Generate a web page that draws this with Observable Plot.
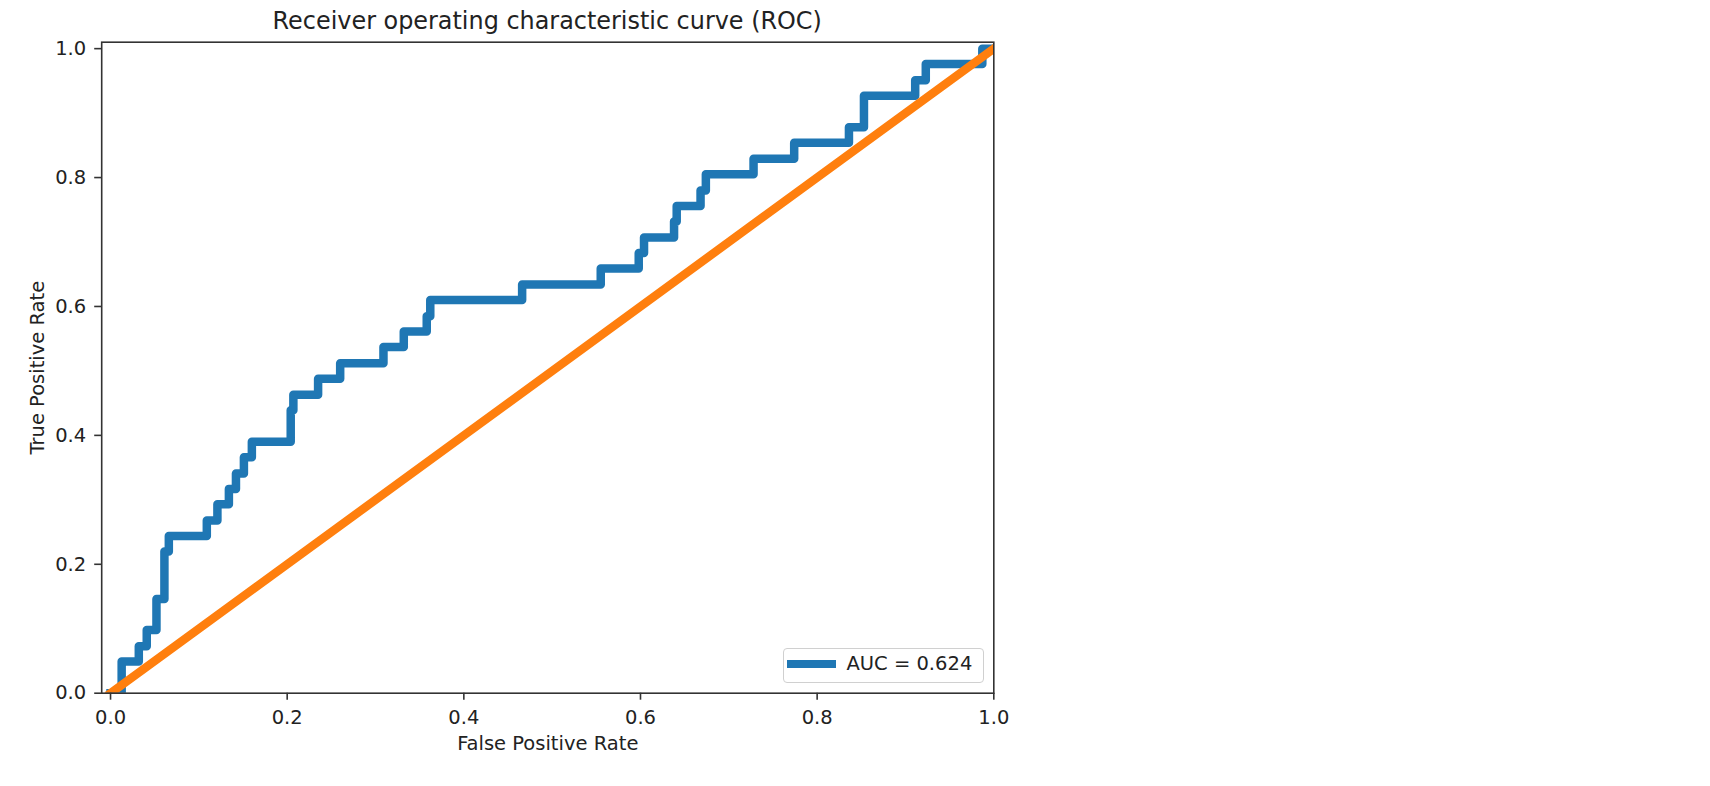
<!DOCTYPE html>
<html>
<head>
<meta charset="utf-8">
<script src="https://cdn.jsdelivr.net/npm/d3@7"></script>
<script src="https://cdn.jsdelivr.net/npm/@observablehq/plot@0.6"></script>
<style>
  html, body { margin: 0; padding: 0; background: #fff; }
  body { width: 1710px; height: 786px; position: relative; overflow: hidden; font-family: "DejaVu Sans", sans-serif; color: #222; }
  #title { box-sizing: border-box; height: 33px; padding-top: 8.6px; margin-left: 101.2px; width: 892.1px; text-align: center; font-size: 23.9px; line-height: 24px; white-space: nowrap; }
  #legend { position: absolute; left: 783px; top: 647.7px; width: 201px; height: 35.6px; box-sizing: border-box; border: 1px solid #d0d0d0; border-radius: 4px; background: rgba(255,255,255,0.8); }
  #legend .swatch { position: absolute; left: 3px; top: 11.2px; width: 49px; height: 8.5px; }
  #legend .label { position: absolute; left: 62.5px; top: 4.9px; font-size: 19.5px; line-height: 20px; white-space: nowrap; }
</style>
</head>
<body>
<div id="title"></div>
<div id="chart"></div>
<div id="legend"><div class="swatch"></div><div class="label"></div></div>
<script>
// ---- data ----
const title = "Receiver operating characteristic curve (ROC)";
const xLabel = "False Positive Rate";
const yLabel = "True Positive Rate";
const aucLabel = "AUC = 0.624";

// ROC curve vertices (false positive rate, true positive rate)
const fpr = [0, 0.0126, 0.0126, 0.032, 0.032, 0.041, 0.041, 0.052, 0.052, 0.061, 0.061, 0.066, 0.066,
  0.109, 0.109, 0.121, 0.121, 0.134, 0.134, 0.142, 0.142, 0.151, 0.151, 0.160, 0.160,
  0.204, 0.204, 0.207, 0.207, 0.235, 0.235, 0.260, 0.260, 0.309, 0.309, 0.332, 0.332,
  0.358, 0.358, 0.362, 0.362, 0.466, 0.466, 0.555, 0.555, 0.598, 0.598, 0.604, 0.604,
  0.638, 0.638, 0.641, 0.641, 0.668, 0.668, 0.674, 0.674, 0.728, 0.728, 0.774, 0.774,
  0.836, 0.836, 0.853, 0.853, 0.911, 0.911, 0.923, 0.923, 0.987, 0.987, 1.0];
const tpr = [0, 0, 0.049, 0.049, 0.073, 0.073, 0.098, 0.098, 0.146, 0.146, 0.220, 0.220, 0.244,
  0.244, 0.268, 0.268, 0.293, 0.293, 0.317, 0.317, 0.341, 0.341, 0.366, 0.366, 0.390,
  0.390, 0.439, 0.439, 0.463, 0.463, 0.488, 0.488, 0.512, 0.512, 0.537, 0.537, 0.561,
  0.561, 0.585, 0.585, 0.610, 0.610, 0.634, 0.634, 0.659, 0.659, 0.683, 0.683, 0.707,
  0.707, 0.732, 0.732, 0.756, 0.756, 0.780, 0.780, 0.805, 0.805, 0.829, 0.829, 0.854,
  0.854, 0.878, 0.878, 0.927, 0.927, 0.951, 0.951, 0.976, 0.976, 1.0, 1.0];

// chance diagonal
const diagX = [0, 1];
const diagY = [0, 1];

// axis ticks
const xTicks = [0, 0.2, 0.4, 0.6, 0.8, 1.0];
const yTicks = [0, 0.2, 0.4, 0.6, 0.8, 1.0];

const rocColor = "#1f77b4";
const diagColor = "#ff7f0e";

// ---- build ----
const roc = fpr.map((x, i) => ({x, y: tpr[i]}));
const diag = diagX.map((x, i) => ({x, y: diagY[i]}));
const fmt = d3.format(".1f");

document.getElementById("title").textContent = title;
document.querySelector("#legend .label").textContent = aucLabel;
document.querySelector("#legend .swatch").style.background = rocColor;

const chart = Plot.plot({
  width: 1000,
  height: 735,
  marginLeft: 101.2,
  marginRight: 6.7,
  marginTop: 8.7,
  marginBottom: 75.3,
  style: {fontFamily: "DejaVu Sans", fontSize: "19.5px", color: "#222", background: "white", overflow: "visible"},
  x: {domain: [-0.01, 1.0]},
  y: {domain: [0, 1.01]},
  marks: [
    Plot.line(roc, {x: "x", y: "y", stroke: rocColor, strokeWidth: 8.5, strokeLinejoin: "round", strokeLinecap: "square", clip: true}),
    Plot.line(diag, {x: "x", y: "y", stroke: diagColor, strokeWidth: 8.5, strokeLinecap: "square", clip: true}),
    Plot.frame({stroke: "#333", strokeWidth: 1.6}),
    Plot.axisX({ticks: xTicks, tickFormat: fmt, tickSize: 7, tickPadding: 9.5, label: null, stroke: "#333", strokeWidth: 1.6}),
    Plot.axisY({ticks: yTicks, tickFormat: fmt, tickSize: 7, tickPadding: 8.5, label: null, stroke: "#333", strokeWidth: 1.6}),
    Plot.text([xLabel], {text: d => d, frameAnchor: "bottom", dy: 50.1, lineAnchor: "middle", textAnchor: "middle", fill: "#222"}),
    Plot.text([yLabel], {text: d => d, frameAnchor: "left", dx: -63.8, rotate: -90, lineAnchor: "middle", textAnchor: "middle", fill: "#222"})
  ]
});
document.getElementById("chart").appendChild(chart);
</script>
</body>
</html>
